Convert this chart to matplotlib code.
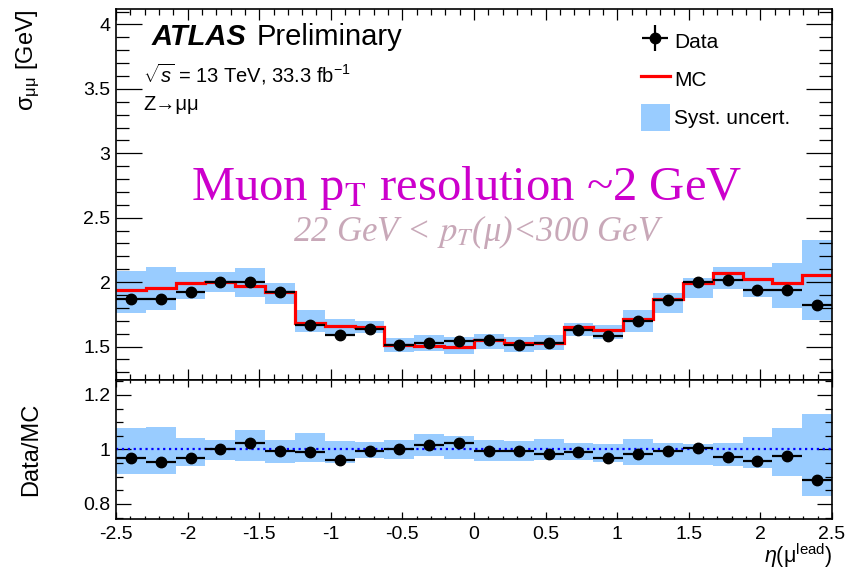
import numpy as np
import matplotlib
matplotlib.use("Agg")
import matplotlib.pyplot as plt
from matplotlib.lines import Line2D
from matplotlib.patches import Patch
from matplotlib.ticker import MultipleLocator, FormatStrFormatter

plt.rcParams["font.family"] = ["Liberation Sans", "DejaVu Sans"]
plt.rcParams["axes.unicode_minus"] = False
plt.rcParams["mathtext.fontset"] = "custom"
plt.rcParams["mathtext.rm"] = "Liberation Sans"
plt.rcParams["mathtext.it"] = "Liberation Sans:italic"
plt.rcParams["mathtext.bf"] = "Liberation Sans:bold"

# 24 equal eta bins of the leading muon
eta_edges = np.linspace(-2.5, 2.5, 25)

# dimuon mass resolution [GeV]
sigma_data = [1.868, 1.868, 1.927, 2.002, 2.002, 1.922, 1.668, 1.593,
              1.635, 1.513, 1.531, 1.544, 1.547, 1.513, 1.526, 1.630,
              1.578, 1.700, 1.863, 2.000, 2.018, 1.935, 1.935, 1.824]
sigma_mc = [1.940, 1.958, 1.992, 2.002, 1.971, 1.927, 1.686, 1.661,
            1.655, 1.513, 1.505, 1.498, 1.547, 1.526, 1.531, 1.648,
            1.630, 1.713, 1.868, 1.992, 2.070, 2.023, 1.992, 2.057]
# systematic band edges around the MC
syst_lo = [1.764, 1.785, 1.870, 1.927, 1.888, 1.832, 1.609, 1.578,
           1.604, 1.461, 1.469, 1.443, 1.480, 1.461, 1.474, 1.583,
           1.556, 1.616, 1.764, 1.876, 1.946, 1.888, 1.798, 1.707]
syst_hi = [2.090, 2.116, 2.075, 2.075, 2.109, 1.992, 1.785, 1.715,
           1.700, 1.565, 1.591, 1.573, 1.599, 1.573, 1.591, 1.686,
           1.665, 1.780, 1.915, 2.031, 2.116, 2.116, 2.148, 2.328]
# data / MC
ratio = [0.967, 0.954, 0.969, 1.001, 1.022, 0.995, 0.991, 0.961,
         0.995, 1.000, 1.016, 1.024, 0.995, 0.995, 0.985, 0.991,
         0.970, 0.983, 0.995, 1.004, 0.973, 0.958, 0.975, 0.889]

centers = 0.5 * (eta_edges[1:] + eta_edges[:-1])
half_width = 0.5 * np.diff(eta_edges)
mc = np.array(sigma_mc)
band_color = "#99ccff"

fig = plt.figure(figsize=(8.63, 5.70), dpi=100)
ax = fig.add_axes([0.1344, 0.3333, 0.8297, 0.6509])
rax = fig.add_axes([0.1344, 0.0895, 0.8297, 0.2439], sharex=ax)

# upper panel
ax.stairs(syst_hi, eta_edges, baseline=syst_lo, fill=True, color=band_color, lw=0)
ax.stairs(sigma_mc, eta_edges, baseline=None, color="red", lw=2.3)
ax.errorbar(centers, sigma_data, xerr=half_width, fmt="o", color="black",
            ms=7.5, elinewidth=1.6, capsize=0)
ax.set_xlim(-2.5, 2.5)
ax.set_ylim(1.24, 4.12)
ax.yaxis.set_major_locator(MultipleLocator(0.5))
ax.yaxis.set_minor_locator(MultipleLocator(0.1))
ax.yaxis.set_major_formatter(FormatStrFormatter("%g"))
ax.set_ylabel("σ$_{\\rm μμ}$ [GeV]", fontsize=17, loc="top")
ax.yaxis.set_label_coords(-0.103, 1.0)

# lower panel
rax.stairs(np.array(syst_hi) / mc, eta_edges, baseline=np.array(syst_lo) / mc,
           fill=True, color=band_color, lw=0)
rax.axhline(1.0, color="blue", ls=":", lw=1.6)
rax.errorbar(centers, ratio, xerr=half_width, fmt="o", color="black",
             ms=7.5, elinewidth=1.6, capsize=0)
rax.set_ylim(0.745, 1.255)
rax.yaxis.set_major_locator(MultipleLocator(0.2))
rax.yaxis.set_minor_locator(MultipleLocator(0.05))
rax.yaxis.set_major_formatter(FormatStrFormatter("%g"))
rax.xaxis.set_major_locator(MultipleLocator(0.5))
rax.xaxis.set_minor_locator(MultipleLocator(0.1))
rax.xaxis.set_major_formatter(FormatStrFormatter("%g"))
rax.set_ylabel("Data/MC", fontsize=17)
rax.yaxis.set_label_coords(-0.103, 0.5)
rax.set_xlabel("$\\eta$(μ$^{\\rm lead}$)", fontsize=15.5, loc="right")
rax.xaxis.set_label_coords(1.0, -0.16)

for a in (ax, rax):
    a.tick_params(which="both", direction="in", top=True, right=True,
                  width=0.9, labelsize=14)
    for s in a.spines.values():
        s.set_linewidth(1.2)
ax.tick_params(axis="x", which="major", length=8, labelbottom=False)
ax.tick_params(axis="x", which="minor", length=4)
ax.tick_params(axis="y", which="major", length=19, pad=4)
ax.tick_params(axis="y", which="minor", length=9.5)
rax.tick_params(axis="x", which="major", length=5, pad=5)
rax.tick_params(axis="x", which="minor", length=2.5)
rax.tick_params(axis="y", which="major", length=11, pad=4)
rax.tick_params(axis="y", which="minor", length=5)

# labels
ax.text(0.0503, 0.903, "ATLAS", transform=ax.transAxes, fontsize=21,
        fontweight="bold", fontstyle="italic", va="baseline")
ax.text(0.196, 0.903, "Preliminary", transform=ax.transAxes, fontsize=21,
        va="baseline")
ax.text(0.0377, 0.803, "$\\sqrt{s}$ = 13 TeV, 33.3 fb$^{-1}$",
        transform=ax.transAxes, fontsize=14.5, va="baseline")
ax.text(0.0377, 0.728, "Z→μμ", transform=ax.transAxes, fontsize=14.5,
        va="baseline")
ax.text(0.490, 0.518, "Muon p$_{\\rm T}$ resolution ~2 GeV",
        transform=ax.transAxes, fontsize=35, color="#cc00cc",
        family="Liberation Serif", math_fontfamily="stix",
        ha="center", va="center")
ax.text(0.506, 0.400, "22 GeV < $p_T$(μ)<300 GeV", transform=ax.transAxes,
        fontsize=25, color="#c8a8b8", family="Liberation Serif",
        fontstyle="italic", math_fontfamily="stix", ha="center", va="center")

data_handle = (Line2D([], [], color="black", marker="o", ms=7.5, ls="none"),
               Line2D([], [], color="black", marker="+", ms=19, mew=1.6, ls="none"))
handles = [data_handle,
           Line2D([], [], color="red", lw=2.3),
           Patch(facecolor=band_color, edgecolor="none")]
ax.legend(handles, ["Data", "MC", "Syst. uncert."], loc="upper left",
          bbox_to_anchor=(0.733, 0.95), frameon=False, fontsize=15,
          handlelength=1.4, handleheight=1.6, handletextpad=0.2,
          labelspacing=0.55, borderpad=0, borderaxespad=0)

fig.savefig("out.png", dpi=100)
